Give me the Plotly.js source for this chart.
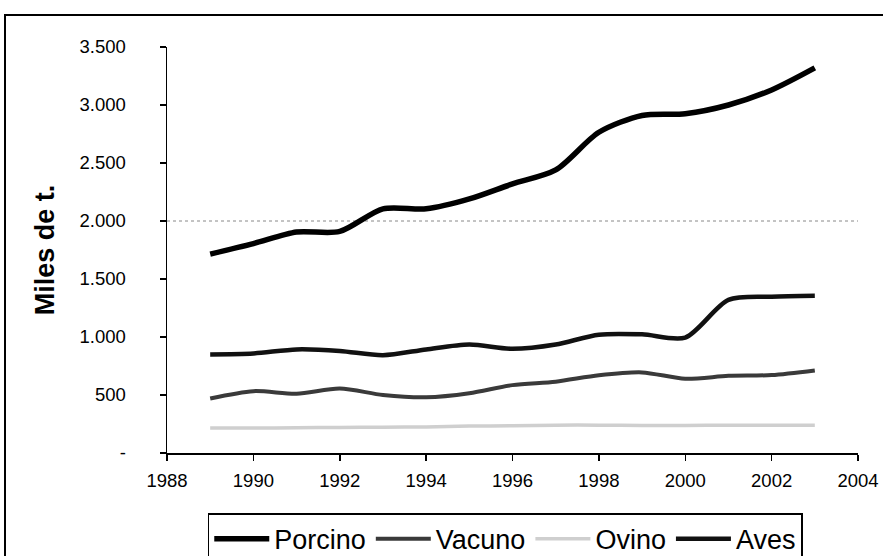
<!DOCTYPE html>
<html>
<head>
<meta charset="utf-8">
<script src="https://cdn.plot.ly/plotly-3.0.1.min.js"></script>
<style>
  html, body { margin: 0; padding: 0; background: #fff; overflow: hidden; }
  #chart { position: absolute; left: 0; top: 0; width: 883px; height: 556px; }
  #frame { position: absolute; left: 4px; top: 14px; width: 900px; height: 600px;
           border: 2px solid #000; pointer-events: none; }
</style>
</head>
<body>
<div id="chart"></div>
<div id="frame"></div>
<script>
const years   = [1989,1990,1991,1992,1993,1994,1995,1996,1997,1998,1999,2000,2001,2002,2003];
const porcino = [1715,1805,1905,1910,2105,2105,2190,2320,2440,2765,2910,2925,3000,3130,3320];
const vacuno  = [470,533,511,556,500,480,515,585,615,670,695,640,665,672,712];
const ovino   = [215,215,218,220,222,225,232,235,240,240,238,238,240,240,240];
const aves    = [850,858,893,880,843,893,935,898,935,1020,1023,995,1320,1347,1355];

const yTickVals = [0,500,1000,1500,2000,2500,3000,3500];
const yTickText = ['-','500','1.000','1.500','2.000','2.500','3.000','3.500'];
const xTickVals = [1988,1990,1992,1994,1996,1998,2000,2002,2004];

const font = 'Liberation Sans, Arial, sans-serif';

const traces = [
  {x: years, y: porcino, name: 'Porcino', mode: 'lines',
   line: {color: '#000000', width: 5.5, shape: 'spline', smoothing: 0.8}},
  {x: years, y: vacuno, name: 'Vacuno', mode: 'lines',
   line: {color: '#3a3a3a', width: 4, shape: 'spline', smoothing: 0.8}},
  {x: years, y: ovino, name: 'Ovino', mode: 'lines',
   line: {color: '#cfcfcf', width: 3.5, shape: 'spline', smoothing: 0.8}},
  {x: years, y: aves, name: 'Aves', mode: 'lines',
   line: {color: '#111111', width: 4.5, shape: 'spline', smoothing: 0.8}}
];

const layout = {
  width: 883, height: 556,
  margin: {l: 167, r: 25, t: 47, b: 103, autoexpand: false},
  paper_bgcolor: '#ffffff', plot_bgcolor: '#ffffff',
  font: {family: font, color: '#000'},
  showlegend: true,
  xaxis: {
    range: [1988, 2004], tickmode: 'array', tickvals: xTickVals,
    showgrid: false, zeroline: false, showline: true, linecolor: '#000', linewidth: 1.5,
    ticks: 'outside', ticklen: 6, tickcolor: '#000', tickwidth: 1.5,
    tickfont: {size: 18.5, family: font, color: '#000'}, ticklabelstandoff: 4
  },
  yaxis: {
    range: [0, 3500], tickmode: 'array', tickvals: yTickVals, ticktext: yTickText,
    showgrid: false, zeroline: false, showline: true, linecolor: '#000', linewidth: 1.5,
    ticks: 'outside', ticklen: 6, tickcolor: '#000', tickwidth: 1.5,
    tickfont: {size: 18.5, family: font, color: '#000'}, ticklabelstandoff: 30,
    title: {text: 'Miles de t.', font: {size: 27, family: font, color: '#000', weight: 'bold'}, standoff: 17}
  },
  shapes: [
    {type: 'line', xref: 'paper', x0: 0, x1: 1, yref: 'y', y0: 2000, y1: 2000,
     line: {color: '#888', width: 1, dash: 'dot'}, layer: 'below'}
  ],
  legend: {
    orientation: 'h', x: 0.059, xanchor: 'left', y: -0.148, yanchor: 'top',
    bordercolor: '#000', borderwidth: 1.5, bgcolor: '#fff',
    font: {size: 27, family: font, color: '#000'},
    itemwidth: 55, tracegroupgap: 0
  }
};

Plotly.newPlot('chart', traces, layout, {displayModeBar: false, staticPlot: true});
</script>
</body>
</html>
